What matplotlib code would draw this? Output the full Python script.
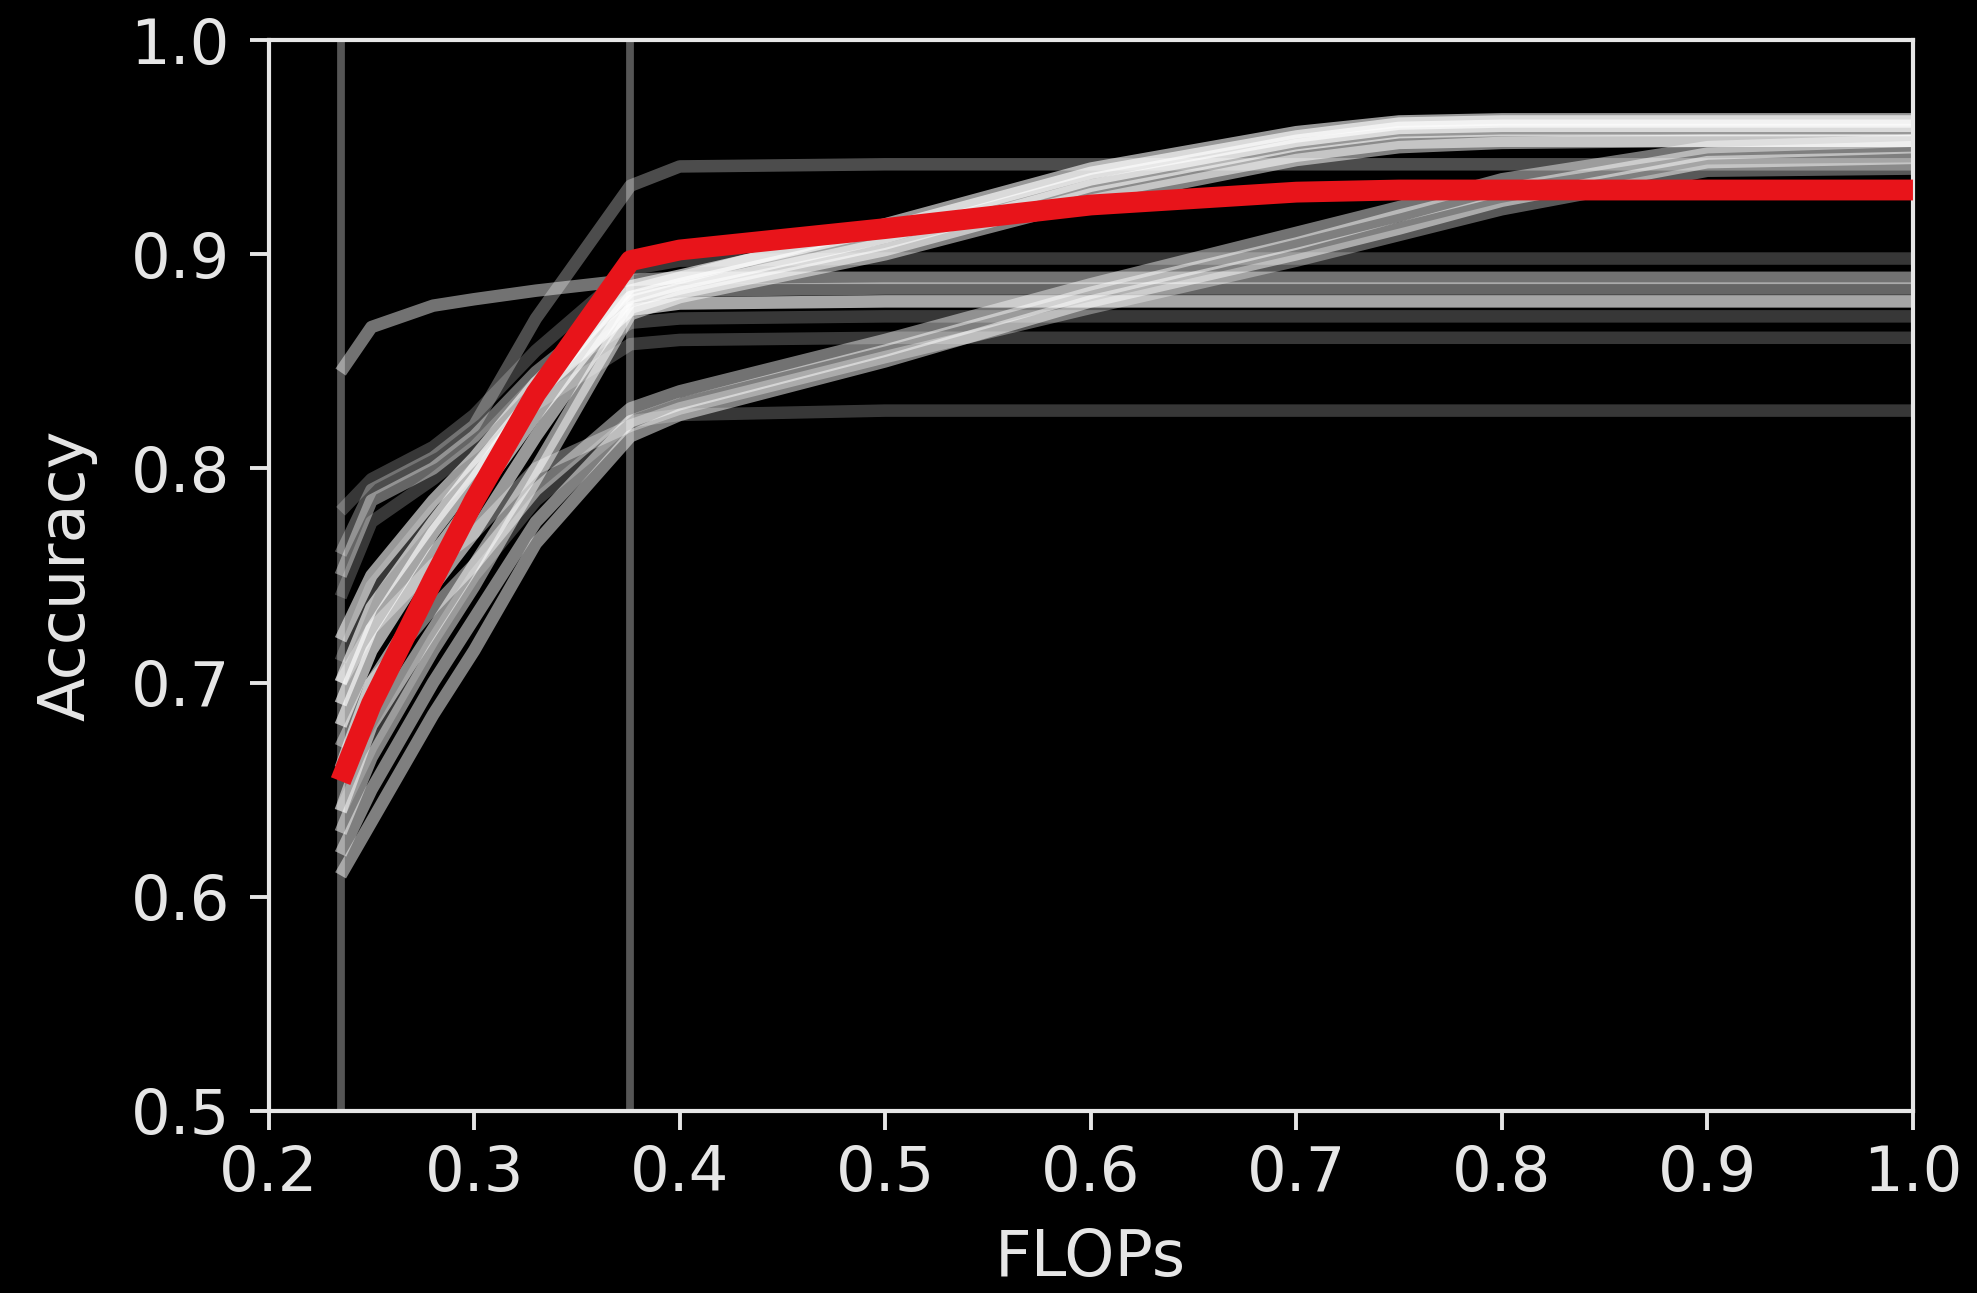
import numpy as np
import matplotlib
matplotlib.use("Agg")
import matplotlib.pyplot as plt

# FLOPs grid shared by all curves
flops = [0.235, 0.25, 0.28, 0.30, 0.33, 0.376, 0.40, 0.50, 0.60, 0.70, 0.75, 0.80, 0.90, 1.00]

# curves that keep rising to ~0.96
top_runs = [
    [0.720, 0.750, 0.785, 0.805, 0.840, 0.883, 0.889, 0.914, 0.940, 0.957, 0.962, 0.963, 0.963, 0.963],
    [0.700, 0.735, 0.775, 0.800, 0.835, 0.885, 0.890, 0.912, 0.938, 0.955, 0.961, 0.962, 0.962, 0.962],
    [0.680, 0.715, 0.760, 0.785, 0.825, 0.880, 0.886, 0.908, 0.935, 0.953, 0.959, 0.960, 0.960, 0.960],
    [0.660, 0.700, 0.745, 0.770, 0.815, 0.878, 0.884, 0.905, 0.932, 0.951, 0.957, 0.958, 0.958, 0.958],
    [0.640, 0.680, 0.725, 0.755, 0.800, 0.875, 0.882, 0.902, 0.928, 0.946, 0.952, 0.953, 0.953, 0.953],
    [0.630, 0.665, 0.715, 0.745, 0.795, 0.872, 0.880, 0.900, 0.925, 0.944, 0.950, 0.952, 0.953, 0.953],
]
top_alpha = [0.6, 0.65, 0.65, 0.6, 0.55, 0.5]

# curves that go flat after the second cut
flat_runs = [
    [0.760, 0.790, 0.805, 0.820, 0.870, 0.932, 0.941, 0.942, 0.942, 0.942, 0.942, 0.942, 0.942, 0.942],
    [0.780, 0.795, 0.810, 0.825, 0.855, 0.893, 0.897, 0.898, 0.898, 0.898, 0.898, 0.898, 0.898, 0.898],
    [0.845, 0.866, 0.876, 0.879, 0.883, 0.888, 0.889, 0.889, 0.889, 0.889, 0.889, 0.889, 0.889, 0.889],
    [0.750, 0.785, 0.800, 0.815, 0.845, 0.880, 0.883, 0.884, 0.884, 0.884, 0.884, 0.884, 0.884, 0.884],
    [0.690, 0.725, 0.770, 0.795, 0.835, 0.874, 0.877, 0.878, 0.878, 0.878, 0.878, 0.878, 0.878, 0.878],
    [0.740, 0.775, 0.795, 0.810, 0.840, 0.868, 0.870, 0.871, 0.871, 0.871, 0.871, 0.871, 0.871, 0.871],
    [0.710, 0.745, 0.780, 0.800, 0.830, 0.858, 0.860, 0.861, 0.861, 0.861, 0.861, 0.861, 0.861, 0.861],
    [0.640, 0.670, 0.720, 0.750, 0.785, 0.822, 0.825, 0.827, 0.827, 0.827, 0.827, 0.827, 0.827, 0.827],
]
flat_alpha = [0.3, 0.22, 0.45, 0.4, 0.65, 0.22, 0.22, 0.22]

# curves that start low and climb slowly
low_runs = [
    [0.610, 0.635, 0.685, 0.715, 0.765, 0.815, 0.825, 0.850, 0.878, 0.900, 0.912, 0.925, 0.943, 0.945],
    [0.620, 0.650, 0.700, 0.730, 0.775, 0.822, 0.830, 0.855, 0.882, 0.905, 0.918, 0.930, 0.947, 0.950],
    [0.670, 0.700, 0.735, 0.755, 0.790, 0.828, 0.836, 0.860, 0.886, 0.910, 0.922, 0.935, 0.950, 0.953],
    [0.700, 0.725, 0.755, 0.770, 0.800, 0.820, 0.828, 0.852, 0.875, 0.897, 0.909, 0.921, 0.939, 0.940],
]
low_alpha = [0.5, 0.5, 0.45, 0.35]

# highlighted run
red_run = [0.654, 0.690, 0.748, 0.785, 0.835, 0.897, 0.902, 0.912, 0.923, 0.929, 0.930, 0.930, 0.930, 0.930]

cuts = [0.235, 0.376]

fig = plt.figure(figsize=(9.885, 6.465), dpi=200, facecolor="black")
ax = fig.add_axes([0.1359, 0.1408, 0.8317, 0.8282])
ax.set_facecolor("black")

for c in cuts:
    ax.axvline(c, color="#555555", lw=2.8, zorder=1)

for runs, alphas in [(flat_runs, flat_alpha), (low_runs, low_alpha), (top_runs, top_alpha)]:
    for y, a in zip(runs, alphas):
        ax.plot(flops, y, color="white", alpha=a, lw=4.5, solid_capstyle="butt", zorder=2)

ax.plot(flops, red_run, color="#e8141a", lw=7.5, solid_capstyle="butt", zorder=3)

ax.set_xlim(0.2, 1.0)
ax.set_ylim(0.5, 1.0)
ax.set_xticks(np.arange(0.2, 1.01, 0.1))
ax.set_yticks(np.arange(0.5, 1.01, 0.1))
ax.set_xticklabels(["0.2", "0.3", "0.4", "0.5", "0.6", "0.7", "0.8", "0.9", "1.0"])
ax.set_yticklabels(["0.5", "0.6", "0.7", "0.8", "0.9", "1.0"])

txt = "#e6e6e6"
for s in ax.spines.values():
    s.set_color(txt)
    s.set_linewidth(1.5)
ax.tick_params(colors=txt, labelsize=22.5, length=7, width=1.4)
ax.tick_params(axis="x", pad=5)
ax.tick_params(axis="y", pad=7)
ax.set_xlabel("FLOPs", color=txt, fontsize=23, labelpad=8)
ax.set_ylabel("Accuracy", color=txt, fontsize=23, labelpad=12)

fig.savefig("out.png", dpi=200, facecolor="black")
